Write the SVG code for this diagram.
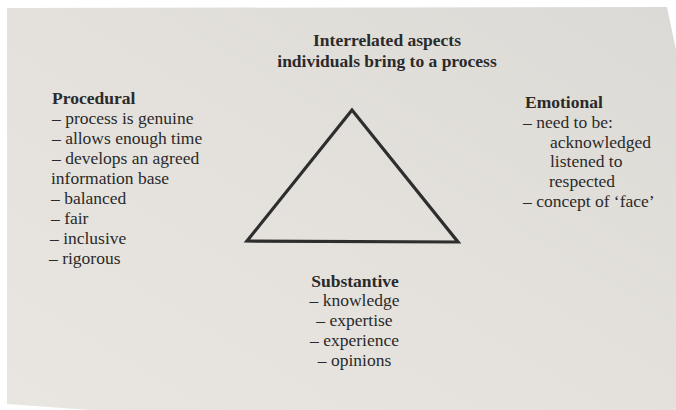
<svg xmlns="http://www.w3.org/2000/svg" width="676" height="410" viewBox="0 0 676 410">
  <defs>
    <linearGradient id="paper" x1="1" y1="0" x2="0" y2="1">
      <stop offset="0" stop-color="#dcdad6"/>
      <stop offset="0.5" stop-color="#e4e1dc"/>
      <stop offset="1" stop-color="#e9e6e1"/>
    </linearGradient>
    <style>
      .t { font-size: 17.5px; fill: #2a2a2a; }
      .b { font-weight: bold; }
      .c { text-anchor: middle; }
    </style>
  </defs>
  <rect width="676" height="410" fill="#ffffff"/>
  <polygon points="7,8 667,7 676,50 676,410 90,410 7,404" fill="url(#paper)"/>

  <g id="labels" font-family="Liberation Serif, Times New Roman, serif" class="t">
  <g id="title">
    <text class="b c" x="387" y="46">Interrelated aspects</text>
    <text class="b c" x="387" y="67">individuals bring to a process</text>
  </g>

  <g id="procedural">
    <text class="b" x="52" y="104">Procedural</text>
    <text x="52" y="124">– process is genuine</text>
    <text x="52" y="144">– allows enough time</text>
    <text x="52" y="164">– develops an agreed</text>
    <text x="51" y="184">information base</text>
    <text x="51" y="204">– balanced</text>
    <text x="51" y="224">– fair</text>
    <text x="50" y="244">– inclusive</text>
    <text x="49" y="264">– rigorous</text>
  </g>

  <g id="emotional">
    <text class="b" x="525" y="108">Emotional</text>
    <text x="523" y="128">– need to be:</text>
    <text x="550" y="148">acknowledged</text>
    <text x="550" y="167">listened to</text>
    <text x="549" y="187">respected</text>
    <text x="523" y="207">– concept of ‘face’</text>
  </g>

  <g id="substantive">
    <text class="b c" x="355" y="287">Substantive</text>
    <text class="c" x="354.5" y="306">– knowledge</text>
    <text class="c" x="354.5" y="326">– expertise</text>
    <text class="c" x="354.5" y="346">– experience</text>
    <text class="c" x="354.5" y="366">– opinions</text>
  </g>
  </g>

  <g id="triangle">
    <polygon points="352,110 247,241 458,242" fill="none" stroke="#2e2e2e" stroke-width="3.2" stroke-linejoin="miter"/>
  </g>
</svg>
